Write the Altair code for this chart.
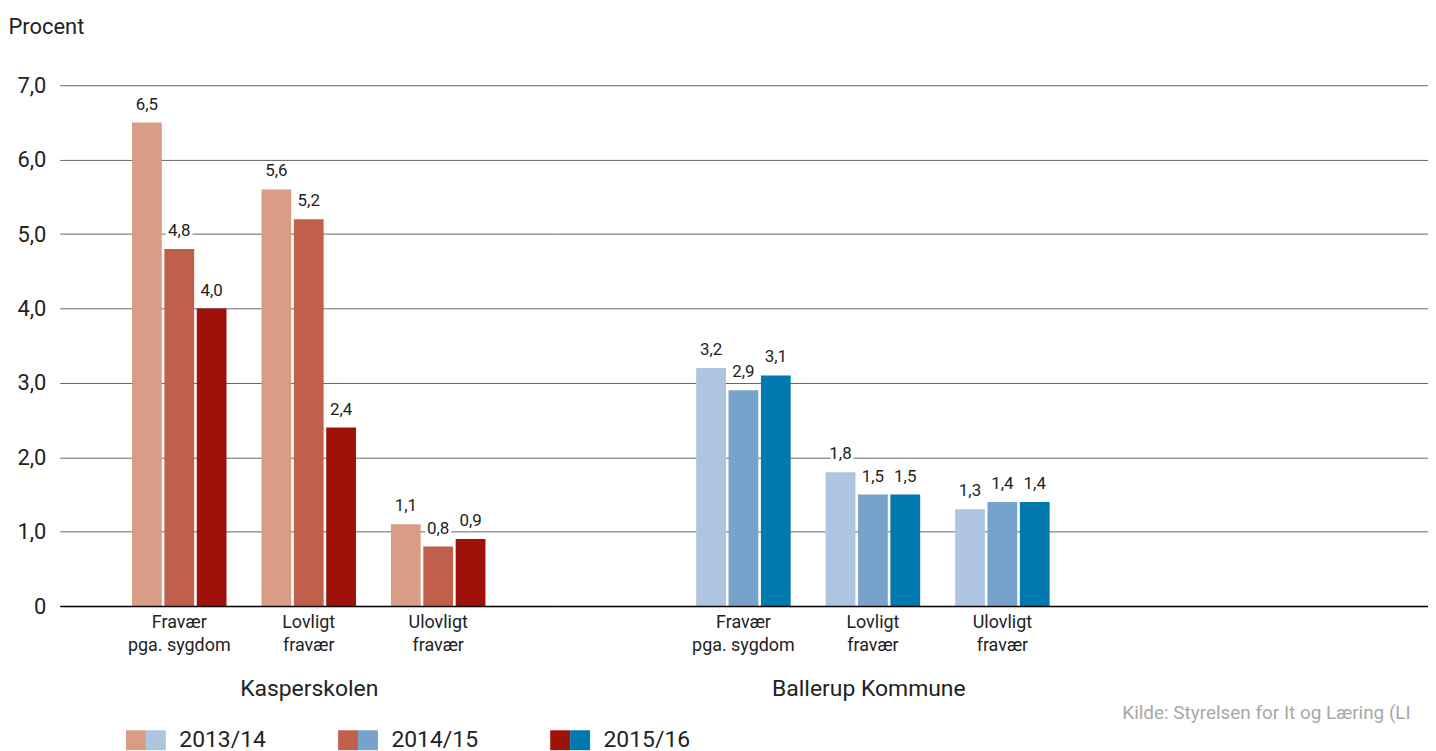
import altair as alt
import pandas as pd

groups = ["Kasperskolen", "Ballerup Kommune"]
categories = ["Fravær\npga. sygdom", "Lovligt\nfravær", "Ulovligt\nfravær"]
spare_slots = [" ", "  "]
years = ["2013/14", "2014/15", "2015/16"]

kasperskolen_2013_14 = [6.5, 5.6, 1.1]
kasperskolen_2014_15 = [4.8, 5.2, 0.8]
kasperskolen_2015_16 = [4.0, 2.4, 0.9]

ballerup_2013_14 = [3.2, 1.8, 1.3]
ballerup_2014_15 = [2.9, 1.5, 1.4]
ballerup_2015_16 = [3.1, 1.5, 1.4]

kasper_colors = ["#D99D85", "#C0604A", "#9E120A"]
ballerup_colors = ["#ADC5E1", "#77A2CC", "#0079B0"]

y_ticks = [0, 1, 2, 3, 4, 5, 6, 7]
y_title = "Procent"
source_note = "Kilde: Styrelsen for It og Læring (LIS)"

FONT = "Roboto"
TEXT = "#222222"
PLOT_H = 523


def frame(series):
    rows = []
    for year, vals in zip(years, series):
        for cat, v in zip(categories, vals):
            rows.append({"kategori": cat, "aar": year, "procent": v})
    return pd.DataFrame(rows)


kasper_df = frame([kasperskolen_2013_14, kasperskolen_2014_15, kasperskolen_2015_16])
ballerup_df = frame([ballerup_2013_14, ballerup_2014_15, ballerup_2015_16])


def panel(df, group, colors, domain, width, pad_outer, align, title_x, left_axis,
          legend_x, label_offset, col_pad, label_opacity, extra=None):
    if left_axis:
        y_axis = alt.Axis(
            values=y_ticks, grid=True, gridColor="#666666", gridWidth=1,
            ticks=False, domain=False, labelFontSize=22, labelPadding=14,
            labelColor=TEXT, labelFont=FONT,
            labelExpr="datum.value == 0 ? '0' : replace(format(datum.value, '.1f'), '.', ',')",
            title=y_title, titleAngle=0, titleAlign="left", titleBaseline="alphabetic",
            titleX=-52, titleY=-52, titleFontSize=22, titleFontWeight="normal",
            titleColor=TEXT, titleFont=FONT,
        )
    else:
        y_axis = alt.Axis(values=y_ticks, grid=True, gridColor="#666666", gridWidth=1,
                          ticks=False, domain=False, labels=False, title=None)

    base = alt.Chart(df).transform_calculate(
        label="replace(format(datum.procent, '.1f'), '.', ',')"
    ).encode(
        x=alt.X(
            "kategori:N", sort=domain,
            scale=alt.Scale(domain=domain, paddingInner=0.27,
                            paddingOuter=pad_outer, align=align),
            axis=alt.Axis(
                title=group, labelExpr="split(datum.label, '\\n')", labelAngle=0,
                labelFontSize=18, labelLineHeight=23, labelPadding=8, labelColor=TEXT,
                labelFont=FONT, ticks=False, domainColor="#000000", domainWidth=1.5,
                titleFontSize=23, titleFontWeight="normal", titleColor=TEXT, titleFont=FONT,
                titleX=title_x, titleY=90, titleBaseline="alphabetic", titleAlign="center",
                zindex=1,
            ),
        ),
        xOffset=alt.XOffset("aar:N", sort=years,
                            scale=alt.Scale(domain=years, paddingInner=0.08, paddingOuter=0)),
        y=alt.Y("procent:Q", scale=alt.Scale(domain=[0, 7], nice=False), axis=y_axis),
    )

    bars = base.mark_bar().encode(
        color=alt.Color(
            "aar:N", sort=years,
            scale=alt.Scale(domain=years, range=colors),
            legend=alt.Legend(
                orient="none", legendX=legend_x, legendY=646, direction="horizontal",
                title=None, symbolType="square", symbolSize=400, symbolStrokeWidth=0,
                symbolOpacity=1, labelFontSize=23, labelFont=FONT, labelColor=TEXT,
                labelOffset=label_offset, columnPadding=col_pad, labelOpacity=label_opacity,
                padding=0,
            ),
        )
    )
    halo = base.mark_text(
        baseline="alphabetic", dy=-13, fontSize=17, font=FONT, stroke="white",
        strokeWidth=6, strokeJoin="round", fill="white",
    ).encode(text="label:N")
    labels = base.mark_text(
        baseline="alphabetic", dy=-13, fontSize=17, font=FONT, color=TEXT,
    ).encode(text="label:N")

    layers = [bars, halo, labels]
    if extra is not None:
        layers.append(extra)
    return alt.layer(*layers).properties(width=width, height=PLOT_H)


note = alt.Chart(pd.DataFrame({"note": [source_note]})).mark_text(
    align="left", baseline="alphabetic", fontSize=19, font=FONT, color="#A8A8A8",
    limit=302, ellipsis=" ",
).encode(x=alt.value(567), y=alt.value(636), text="note:N")

# right panel: 874 px wide, first band starts ~138 px in, step 130
left = panel(kasper_df, groups[0], kasper_colors, categories, 500, 0.558, 0.5, 250, True,
             65, 32, 70, 0)
right = panel(ballerup_df, groups[1], ballerup_colors, categories + spare_slots, 874, 0.996,
              0.537, 312, False, -415, 12, 90, 1, extra=note)

chart = alt.hconcat(left, right, spacing=0, bounds="flush").resolve_scale(
    x="independent", y="independent", color="independent", xOffset="independent"
).resolve_legend(color="independent").configure(
    font=FONT, background="white",
    padding={"left": 0, "top": 6, "right": 0, "bottom": 0},
).configure_view(stroke=None)

chart.save("out.html", embed_options={"renderer": "svg", "actions": False})
